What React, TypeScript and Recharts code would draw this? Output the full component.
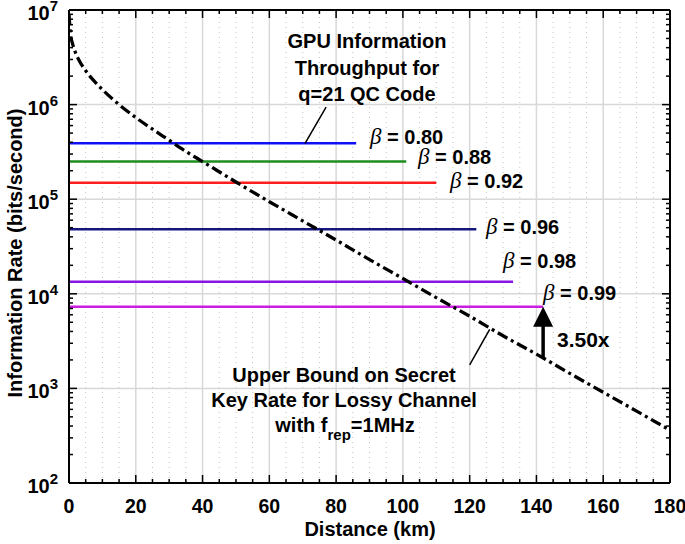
import React from "react";
import { ComposedChart, Line, XAxis, YAxis, ReferenceLine } from "recharts";

// PLOB-type upper bound (bits/second)
const distanceKm = [0, 0.5, 1, 2, 3, 5, 7.5, 10, 15, 20, 25, 30, 35, 40, 50, 60, 70, 80, 90, 100, 110, 120, 130, 140, 150, 160, 170, 180];
const upperBound = [9.0e6, 5.4e6, 4.5e6, 3.5e6, 2.95e6, 2.28e6, 1.78e6, 1.44e6, 1.0e6, 7.3e5, 5.5e5, 4.2e5, 3.2e5, 2.5e5, 1.52e5, 9.4e4, 5.9e4, 3.7e4, 2.3e4, 1.45e4, 9.1e3, 5.8e3, 3.6e3, 2.3e3, 1.44e3, 910, 575, 362];

// GPU throughput per beta (flat lines starting at 0 km)
const betaLabels = ["0.80", "0.88", "0.92", "0.96", "0.98", "0.99"];
const gpuRate = [3.9e5, 2.5e5, 1.49e5, 4.8e4, 1.34e4, 7.3e3];
const lineEndKm = [86, 101, 110, 122, 133, 142];
const betaColors = ["#1010f5", "#1e8c1e", "#ff1e1e", "#16167f", "#8a14e4", "#cc1ee0"];

const xMajorTicks = [0, 20, 40, 60, 80, 100, 120, 140, 160, 180];
const xAllTicks = Array.from({ length: 37 }, (_, i) => i * 5);
const xMinorTicks = xAllTicks.filter((v) => v % 20 !== 0);
const yDecades = [1e2, 1e3, 1e4, 1e5, 1e6, 1e7];
const yAllTicks = yDecades.flatMap((d, i) => (i === yDecades.length - 1 ? [d] : [1, 2, 3, 4, 5, 6, 7, 8, 9].map((m) => m * d)));

const arrowKm = 142;
const arrowFrom = 2.1e3;
const gpuLeader = [{ x: 70.7, y: 3.9e5 }, { x: 77, y: 9.4e5 }];
const boundLeader = [{ x: 120, y: 1.77e3 }, { x: 126, y: 4.2e3 }];

const W = 685;
const H = 544;
const PLOT_W = 601;
const PLOT_H = 473;
const FONT = "'Liberation Sans', Arial, Helvetica, sans-serif";

const boundData = distanceKm.map((d, i) => ({ distance: d, rate: upperBound[i] }));
const betaSeries = betaLabels.map((b, i) => ({
  name: b,
  color: betaColors[i],
  data: [
    { distance: 0, rate: gpuRate[i] },
    { distance: lineEndKm[i], rate: gpuRate[i] },
  ],
}));

const betaLabelPos = [
  [370, 144],
  [418, 164],
  [450, 188],
  [486, 234],
  [503, 268],
  [543, 300],
];

const XTick = (p: any) => {
  const { x, y, payload } = p;
  const v = payload.value;
  const major = v % 20 === 0;
  const len = major ? 8 : 4;
  return (
    <g>
      <line x1={x} x2={x} y1={y} y2={y - len} stroke="#000" strokeWidth={1.5} />
      <line x1={x} x2={x} y1={y - PLOT_H} y2={y - PLOT_H + len} stroke="#000" strokeWidth={1.5} />
      {major && (
        <text x={x} y={y + 30} textAnchor="middle" fontFamily={FONT} fontWeight="bold" fontSize={19.5} fill="#000">
          {v}
        </text>
      )}
    </g>
  );
};

const YTick = (p: any) => {
  const { x, y, payload } = p;
  const v = payload.value;
  const exp = Math.round(Math.log10(v));
  const major = Math.abs(v - Math.pow(10, exp)) < 1e-6 * v;
  const len = major ? 8 : 4;
  return (
    <g>
      <line x1={x} x2={x + len} y1={y} y2={y} stroke="#000" strokeWidth={1.5} />
      <line x1={x + PLOT_W} x2={x + PLOT_W - len} y1={y} y2={y} stroke="#000" strokeWidth={1.5} />
      {major && (
        <text x={x - 11} y={y + 10} textAnchor="end" fontFamily={FONT} fontWeight="bold" fontSize={20} fill="#000">
          10
          <tspan fontSize={15} dy={-9}>
            {exp}
          </tspan>
        </text>
      )}
    </g>
  );
};

const ArrowShape = (p: any) => {
  const { x1, y1, y2 } = p;
  const top = Math.min(y1, y2);
  const bottom = Math.max(y1, y2);
  return (
    <g>
      <line x1={x1} x2={x1} y1={bottom} y2={top + 18} stroke="#000" strokeWidth={3.5} />
      <polygon points={`${x1 - 10},${top + 20} ${x1 + 10},${top + 20} ${x1},${top}`} fill="#000" />
    </g>
  );
};

export default function App() {
  return (
    <div style={{ position: "absolute", left: 0, top: 0, width: W, height: H, background: "#fff" }}>
      <ComposedChart width={W} height={H} margin={{ top: 10, right: 15, bottom: 0, left: 0 }}>
        <XAxis
          type="number"
          dataKey="distance"
          domain={[0, 180]}
          allowDataOverflow
          ticks={xAllTicks}
          interval={0}
          tickSize={0}
          tickMargin={0}
          tickLine={false}
          axisLine={false}
          height={61}
          tick={(p: any) => <XTick {...p} />}
        />
        <YAxis
          type="number"
          scale="log"
          domain={[100, 1e7]}
          allowDataOverflow
          ticks={yAllTicks}
          interval={0}
          tickSize={0}
          tickMargin={0}
          tickLine={false}
          axisLine={false}
          width={69}
          tick={(p: any) => <YTick {...p} />}
        />
        {xMinorTicks.map((v) => (
          <ReferenceLine key={`xm${v}`} x={v} stroke="#c4c4c4" strokeDasharray="1 4" />
        ))}
        {xMajorTicks.map((v) => (
          <ReferenceLine key={`xM${v}`} x={v} stroke="#d8d8d8" strokeWidth={1.5} />
        ))}
        {yDecades.map((v) => (
          <ReferenceLine key={`yM${v}`} y={v} stroke="#d8d8d8" strokeWidth={1.5} />
        ))}
        {betaSeries.map((s) => (
          <Line
            key={s.name}
            data={s.data}
            dataKey="rate"
            type="linear"
            stroke={s.color}
            strokeWidth={2.5}
            dot={false}
            isAnimationActive={false}
          />
        ))}
        <Line
          data={boundData}
          dataKey="rate"
          type="monotone"
          stroke="#000"
          strokeWidth={3.3}
          strokeDasharray="11 4 3 4"
          dot={false}
          isAnimationActive={false}
        />
        <ReferenceLine x={0} stroke="#000" strokeWidth={2} />
        <ReferenceLine x={180} stroke="#000" strokeWidth={2} />
        <ReferenceLine y={100} stroke="#000" strokeWidth={2} />
        <ReferenceLine y={1e7} stroke="#000" strokeWidth={2} />
        <ReferenceLine segment={gpuLeader} stroke="#000" strokeWidth={1.5} />
        <ReferenceLine segment={boundLeader} stroke="#000" strokeWidth={1.5} />
        <ReferenceLine
          segment={[
            { x: arrowKm, y: arrowFrom },
            { x: arrowKm, y: gpuRate[5] },
          ]}
          shape={(p: any) => <ArrowShape {...p} />}
        />
      </ComposedChart>
      <svg width={W} height={H} style={{ position: "absolute", left: 0, top: 0, pointerEvents: "none" }}>
        <g fontFamily={FONT} fontWeight="bold" fill="#000">
          <text x={367} y={48} fontSize={20} textAnchor="middle">GPU Information</text>
          <text x={367} y={75} fontSize={20} textAnchor="middle">Throughput for</text>
          <text x={367} y={101} fontSize={20} textAnchor="middle">q=21 QC Code</text>
          <text x={344} y={382} fontSize={20} textAnchor="middle">Upper Bound on Secret</text>
          <text x={344} y={407} fontSize={20} textAnchor="middle">Key Rate for Lossy Channel</text>
          <text x={345} y={432} fontSize={20} textAnchor="middle">
            with f<tspan fontSize={15} dy={8}>rep</tspan>
            <tspan dy={-8}>=1MHz</tspan>
          </text>
          <text x={557} y={347} fontSize={21}>3.50x</text>
          {betaLabels.map((b, i) => (
            <text key={b} x={betaLabelPos[i][0]} y={betaLabelPos[i][1]} fontSize={20}>
              <tspan fontFamily="'Liberation Serif', 'DejaVu Serif', serif" fontStyle="italic" fontWeight="normal" fontSize={23}>
                β
              </tspan>
              {` = ${b}`}
            </text>
          ))}
          <text x={370} y={536} fontSize={20} textAnchor="middle">Distance (km)</text>
          <text x={22} y={253} fontSize={20} textAnchor="middle" transform="rotate(-90 22 253)">
            Information Rate (bits/second)
          </text>
        </g>
      </svg>
    </div>
  );
}
